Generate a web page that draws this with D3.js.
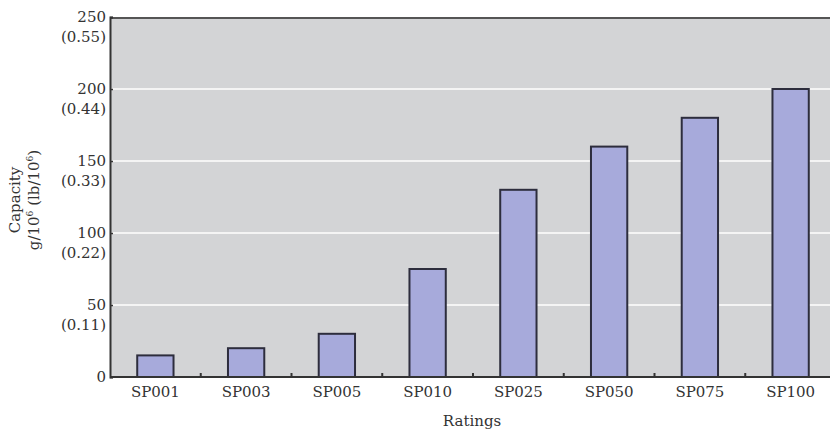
<!DOCTYPE html>
<html>
<head>
<meta charset="utf-8">
<script src="https://cdn.jsdelivr.net/npm/d3@7"></script>
<style>
  html, body { margin: 0; padding: 0; background: #fff; }
  svg { display: block; }
  text { font-family: "DejaVu Serif", "Liberation Serif", serif; fill: #333; }
</style>
</head>
<body>
<svg id="chart" width="830" height="437"></svg>
<script>
const categories = ["SP001", "SP003", "SP005", "SP010", "SP025", "SP050", "SP075", "SP100"];
const capacity = [15, 20, 30, 75, 130, 160, 180, 200];
const yTicks = [0, 50, 100, 150, 200, 250];
const yTickSecondary = ["", "(0.11)", "(0.22)", "(0.33)", "(0.44)", "(0.55)"];

const svg = d3.select("#chart");
const mLeft = 110, mRight = 836, mTop = 17, mBottom = 377;
const fs = 15;

const x = d3.scaleBand().domain(categories).range([mLeft, mRight]).padding(0);
const y = d3.scaleLinear().domain([0, 250]).range([mBottom, mTop]);

// plot background
svg.append("rect")
  .attr("x", mLeft).attr("y", mTop)
  .attr("width", 830 - mLeft).attr("height", mBottom - mTop)
  .attr("fill", "#d3d4d6");

// gridlines
svg.append("g").selectAll("line")
  .data(yTicks.filter(d => d > 0 && d < 250))
  .join("line")
  .attr("x1", mLeft).attr("x2", 830)
  .attr("y1", d => y(d)).attr("y2", d => y(d))
  .attr("stroke", "#f4f4f4").attr("stroke-width", 2);

// bars
const bw = x.bandwidth() * 0.4;
svg.append("g").selectAll("rect")
  .data(categories.map((c, i) => ({c, v: capacity[i]})))
  .join("rect")
  .attr("x", d => x(d.c) + x.bandwidth() / 2 - bw / 2)
  .attr("y", d => y(d.v))
  .attr("width", bw)
  .attr("height", d => y(0) - y(d.v))
  .attr("fill", "#a7aadb")
  .attr("stroke", "#2d2d3d")
  .attr("stroke-width", 2);

// top border
svg.append("line")
  .attr("x1", mLeft).attr("x2", 830).attr("y1", mTop + 1).attr("y2", mTop + 1)
  .attr("stroke", "#555").attr("stroke-width", 2.2);

// y axis
const yAxis = svg.append("g").attr("transform", `translate(${mLeft},0)`)
  .call(d3.axisRight(y).tickValues(yTicks).tickSize(3).tickFormat(""));
yAxis.select(".domain").attr("stroke", "#333").attr("stroke-width", 2);
yAxis.selectAll(".tick line").attr("stroke", "#333").attr("stroke-width", 1.5);

// y tick labels (two lines)
const yl = svg.append("g").selectAll("g").data(yTicks).join("g")
  .attr("transform", d => `translate(${mLeft - 4},${y(d)})`);
yl.append("text")
  .attr("text-anchor", "end").attr("dy", "0.35em")
  .attr("font-size", fs)
  .text(d => d);
yl.append("text")
  .attr("text-anchor", "end").attr("dy", "0.35em").attr("y", 20)
  .attr("font-size", fs)
  .text((d, i) => yTickSecondary[i]);

// x axis
const xAxis = svg.append("g").attr("transform", `translate(0,${mBottom})`)
  .call(d3.axisBottom(x).tickSize(0).tickPadding(9));
xAxis.select(".domain").remove();
xAxis.selectAll(".tick text").attr("font-size", fs)
  .style("font-family", "'DejaVu Serif', serif").attr("fill", "#333");
svg.append("line")
  .attr("x1", mLeft).attr("x2", 830).attr("y1", mBottom).attr("y2", mBottom)
  .attr("stroke", "#333").attr("stroke-width", 2);
// x ticks between bands (upward)
svg.append("g").selectAll("line")
  .data(categories.slice(1))
  .join("line")
  .attr("x1", d => x(d)).attr("x2", d => x(d))
  .attr("y1", mBottom).attr("y2", mBottom - 4)
  .attr("stroke", "#333").attr("stroke-width", 2);

// axis titles
svg.append("text")
  .attr("x", 472).attr("y", 426)
  .attr("text-anchor", "middle").attr("font-size", fs)
  .text("Ratings");

const yt = svg.append("text")
  .attr("transform", "translate(0,200) rotate(-90)")
  .attr("text-anchor", "middle").attr("font-size", fs);
yt.append("tspan").attr("x", 0).attr("y", 20).text("Capacity");
yt.append("tspan").attr("x", 0).attr("y", 39).text("g/10");
yt.append("tspan").attr("font-size", 9).attr("dy", -6).text("6");
yt.append("tspan").attr("font-size", fs).attr("dy", 6).text(" (lb/10");
yt.append("tspan").attr("font-size", 9).attr("dy", -6).text("6");
yt.append("tspan").attr("font-size", fs).attr("dy", 6).text(")");
</script>
</body>
</html>
